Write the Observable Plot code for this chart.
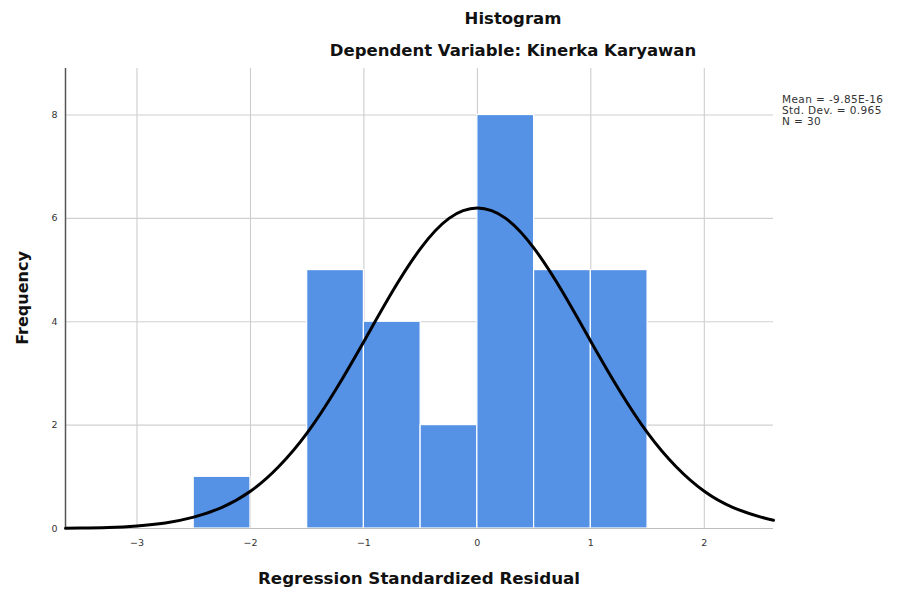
<!DOCTYPE html>
<html>
<head>
<meta charset="utf-8">
<script src="https://cdn.jsdelivr.net/npm/d3@7"></script>
<script src="https://cdn.jsdelivr.net/npm/@observablehq/plot@0.6"></script>
<style>
  html, body { margin: 0; padding: 0; background: #fff; }
  #wrap { position: relative; width: 904px; height: 592px; font-family: "DejaVu Sans", sans-serif; }
  .t { position: absolute; font-weight: bold; color: #111; white-space: nowrap; }
  #legend { position: absolute; left: 782px; top: 94px; font-size: 10.5px; letter-spacing: 0.4px; line-height: 11px; color: #333; }
</style>
</head>
<body>
<div id="wrap">
  <div id="chart"></div>
  <div class="t" style="left:513px; top:18px; transform:translate(-50%,-50%); font-size:16.5px;">Histogram</div>
  <div class="t" style="left:513px; top:50px; transform:translate(-50%,-50%); font-size:16.5px;">Dependent Variable: Kinerka Karyawan</div>
  <div class="t" style="left:419px; top:578px; transform:translate(-50%,-50%); font-size:16.7px;">Regression Standardized Residual</div>
  <div class="t" style="left:22px; top:298px; transform:translate(-50%,-50%) rotate(-90deg); font-size:16px;">Frequency</div>
  <div id="legend">Mean = -9.85E-16<br>Std. Dev. = 0.965<br>N = 30</div>
</div>
<script>
// Histogram bins (lower edge, upper edge, frequency)
const binStart = [-2.5, -1.5, -1.0, -0.5, 0.0, 0.5, 1.0];
const binEnd   = [-2.0, -1.0, -0.5,  0.0, 0.5, 1.0, 1.5];
const freq     = [1, 5, 4, 2, 8, 5, 5];

// Normal curve points
const curveX = [-3.63, -3.5, -3.25, -3.0, -2.75, -2.5, -2.25, -2.0, -1.75, -1.5, -1.25, -1.0, -0.75, -0.5, -0.25, 0.0, 0.25, 0.5, 0.75, 1.0, 1.25, 1.5, 1.75, 2.0, 2.25, 2.5, 2.61];
const curveY = [0.006, 0.009, 0.021, 0.05, 0.107, 0.22, 0.41, 0.72, 1.20, 1.85, 2.68, 3.62, 4.58, 5.42, 6.00, 6.2, 6.00, 5.42, 4.58, 3.62, 2.68, 1.85, 1.20, 0.72, 0.41, 0.22, 0.16];

const xTicks = [-3, -2, -1, 0, 1, 2];
const yTicks = [0, 2, 4, 6, 8];
const yGrid = [2, 4, 6, 8];

const bins = binStart.map((s, i) => ({x1: s, x2: binEnd[i], y: freq[i]}));
const curve = curveX.map((x, i) => ({x, y: curveY[i]}));
const xMin = -3.63, xMax = 2.61;
const fmt = d => (d < 0 ? "\u2212" : "") + Math.abs(d);

const plot = Plot.plot({
  width: 904,
  height: 592,
  marginLeft: 65,
  marginRight: 131,
  marginTop: 68,
  marginBottom: 64,
  style: {fontFamily: "DejaVu Sans, sans-serif", fontSize: "9.5px", color: "#333", background: "transparent"},
  x: {domain: [xMin, xMax], label: null},
  y: {domain: [0, 8.9], label: null},
  marks: [
    Plot.ruleX(xTicks, {stroke: "#c8c8c8", strokeWidth: 1}),
    Plot.ruleY(yGrid, {x1: xMin, x2: xMax, stroke: "#d0d0d0", strokeWidth: 1.2}),
    Plot.rectY(bins, {x1: "x1", x2: "x2", y: "y", fill: "#5592e5", stroke: "#fff", strokeWidth: 1.2}),
    Plot.ruleY([0], {x1: xMin, x2: xMax, stroke: "#bdbdbd", strokeWidth: 1.2}),
    Plot.ruleX([xMin], {y1: 0, y2: 8.9, stroke: "#555", strokeWidth: 1.5}),
    Plot.line(curve, {x: "x", y: "y", stroke: "#000", strokeWidth: 3, curve: "natural"}),
    Plot.axisX({ticks: xTicks, tickFormat: fmt, tickSize: 0, tickPadding: 11, label: null}),
    Plot.axisY({ticks: yTicks, tickFormat: fmt, tickSize: 0, tickPadding: 8, label: null})
  ]
});
document.getElementById("chart").appendChild(plot);
</script>
</body>
</html>
